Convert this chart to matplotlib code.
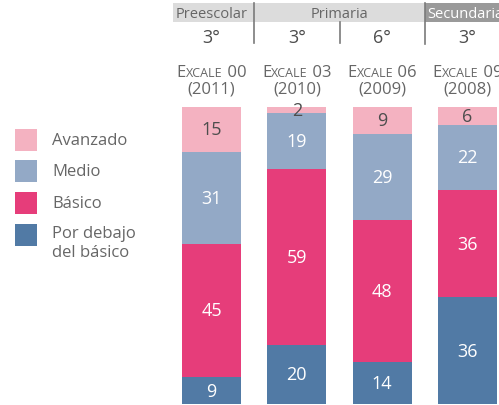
import matplotlib.pyplot as plt
from matplotlib.patches import Rectangle
import numpy as np

plt.rcParams['font.family'] = ['Open Sans', 'DejaVu Sans']

# data
levels = ['Avanzado', 'Medio', 'Básico', 'Por debajo\ndel básico']
colors = ['#f4b2c1', '#93a9c6', '#e63d7a', '#517aa5']
por_debajo = [9, 20, 14, 36]
basico = [45, 59, 48, 36]
medio = [31, 19, 29, 22]
avanzado = [15, 2, 9, 6]
grades = ['3°', '3°', '6°', '3°']
excale = ['00', '03', '06', '09']
years = ['(2011)', '(2010)', '(2009)', '(2008)']

W, H = 499, 406
fig = plt.figure(figsize=(W / 100, H / 100), dpi=100)

# bar axes placed in pixel terms
x0_px, x1_px = 170, 499
ytop_px, ybot_px = 108, 405
ax = fig.add_axes([x0_px / W, (H - ybot_px) / H, (x1_px - x0_px) / W, (ybot_px - ytop_px) / H])
step = 85.33
c0 = 211.5
ax.set_xlim((x0_px - c0) / step, (x1_px - c0) / step)
ax.set_ylim(0, 100)
ax.axis('off')

x = np.arange(len(por_debajo))
width = 0.69
stack = [por_debajo, basico, medio, avanzado]
stack_colors = [colors[3], colors[2], colors[1], colors[0]]
bottom = np.zeros(len(x))
for i, (vals, col) in enumerate(zip(stack, stack_colors)):
    vals = np.array(vals)
    ax.bar(x, vals, width, bottom=bottom, color=col, linewidth=0)
    tc = '#4d4d4d' if i == 3 else 'white'
    for xi, b, v in zip(x, bottom, vals):
        ax.text(xi, b + v / 2, str(v), ha='center', va='center', color=tc, fontsize=13)
    bottom = bottom + vals

# header (figure pixel coords)
def fx(px):
    return px / W

def fy(py):
    return 1 - py / H

def data_to_px(xd):
    return c0 + xd * step

gray_txt = '#666666'
fig.patches.append(Rectangle((fx(173), fy(23)), fx(425) - fx(173), fy(4) - fy(23),
                             transform=fig.transFigure, color='#dcdcdc', lw=0))
fig.patches.append(Rectangle((fx(425), fy(23)), fx(499) - fx(425), fy(4) - fy(23),
                             transform=fig.transFigure, color='#9a9a9a', lw=0))
fig.add_artist(plt.Line2D([fx(254), fx(254)], [fy(4), fy(44)], transform=fig.transFigure,
                          color='#7a7a7a', lw=1.2))
fig.add_artist(plt.Line2D([fx(339.5), fx(339.5)], [fy(23), fy(44)], transform=fig.transFigure,
                          color='#7a7a7a', lw=1.2))
fig.add_artist(plt.Line2D([fx(425), fx(425)], [fy(4), fy(45)], transform=fig.transFigure,
                          color='#7a7a7a', lw=1.2))

fig.text(fx(data_to_px(0)), fy(14), 'Preescolar', ha='center', va='center', fontsize=10.5, color=gray_txt)
fig.text(fx(data_to_px(1.5)), fy(14), 'Primaria', ha='center', va='center', fontsize=10.5, color=gray_txt)
fig.text(fx(427), fy(14), 'Secundaria', ha='left', va='center', fontsize=10.5, color='white')

renderer = fig.canvas.get_renderer()
for xi in x:
    cx = data_to_px(xi)
    fig.text(fx(cx), fy(38), grades[xi], ha='center', va='center', fontsize=13, color='#4d4d4d')
    fig.text(fx(cx), fy(89), years[xi], ha='center', va='center', fontsize=12, color=gray_txt)
    # small caps "EXCALE nn"
    parts = [('E', 12), ('XCALE', 9), (' ' + excale[xi], 12)]
    texts = []
    for s, fs in parts:
        t = fig.text(0, fy(77), s, ha='left', va='baseline', fontsize=fs, color=gray_txt)
        texts.append(t)
    widths = [t.get_window_extent(renderer).width for t in texts]
    left = cx - sum(widths) / 2
    for t, w in zip(texts, widths):
        t.set_x(fx(left))
        left += w

# legend
leg_y = [141, 172, 204, 236]
for lab, col, yc in zip(levels, colors, leg_y):
    fig.patches.append(Rectangle((fx(15), fy(yc + 11)), fx(22), fy(0) - fy(22),
                                 transform=fig.transFigure, color=col, lw=0))
    fig.text(fx(52), fy(yc), lab, ha='left', va='top' if '\n' in lab else 'center',
             fontsize=12, color=gray_txt, linespacing=1.25)

fig.texts[-1].set_y(fy(226))

fig.savefig('out.png', dpi=100)
